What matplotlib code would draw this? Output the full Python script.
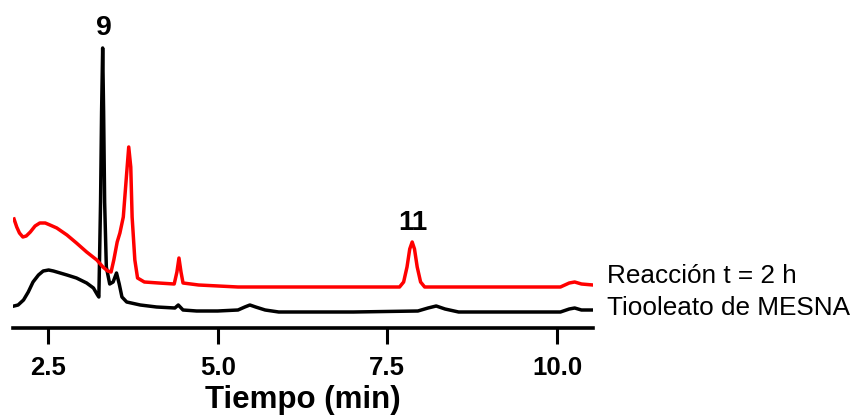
import matplotlib
matplotlib.use("Agg")
import matplotlib.pyplot as plt

plt.rcParams['font.family'] = ['Liberation Sans', 'DejaVu Sans']

# Tiooleato de MESNA (trazo negro), tiempo en min / señal en u.a.
t_mesna = [2.00, 2.06, 2.14, 2.21, 2.28, 2.36, 2.43, 2.51, 2.58, 2.68, 2.78, 2.92,
           3.07, 3.17, 3.23, 3.25, 3.275, 3.29, 3.306, 3.32, 3.335, 3.36, 3.41,
           3.46, 3.51, 3.55, 3.59, 3.66, 3.86, 4.10, 4.37, 4.42, 4.49, 4.69,
           5.00, 5.30, 5.40, 5.475, 5.56, 5.70, 5.90, 7.00, 7.95, 8.10, 8.22,
           8.35, 8.55, 9.50, 10.05, 10.18, 10.26, 10.36, 10.53]
y_mesna = [6, 7, 12, 20, 30, 37, 41, 42, 41, 39, 37, 34,
           29, 24, 17, 15, 110, 200, 264, 200, 110, 45, 28,
           30, 39, 28, 15, 10, 7, 5, 4, 7, 2, 1,
           1, 2, 5, 7, 5, 2, 0, 0, 1, 4, 6,
           3, 0, 0, 0, 3, 4, 2, 2]

# Reacción t = 2 h (trazo rojo)
t_reac = [2.00, 2.04, 2.08, 2.13, 2.18, 2.24, 2.31, 2.38, 2.46, 2.53, 2.63, 2.78,
          2.92, 3.07, 3.22, 3.31, 3.38, 3.43, 3.47, 3.52, 3.56, 3.61, 3.66, 3.69,
          3.72, 3.74, 3.78, 3.82, 3.92, 4.13, 4.36, 4.40, 4.43, 4.46, 4.49, 4.72,
          5.30, 6.50, 7.68, 7.74, 7.79, 7.83, 7.866, 7.90, 7.94, 7.99, 8.05, 9.50,
          10.05, 10.18, 10.26, 10.36, 10.53]
y_reac = [68, 60, 54, 50, 51, 55, 61, 64, 64, 62, 59, 52,
          44, 35, 27, 20, 16, 15, 27, 45, 54, 70, 114, 140,
          120, 70, 27, 9, 5, 4, 3, 15, 29, 15, 4, 2,
          0, 0, 0, 5, 20, 38, 45, 38, 20, 5, 0, 0,
          0, 4, 5, 3, 2]
reac_offset = 25

xticks = [2.5, 5.0, 7.5, 10.0]
xtick_labels = ['2.5', '5.0', '7.5', '10.0']

fig = plt.figure(figsize=(8.56, 4.18), dpi=100)
ax = fig.add_axes([13 / 856, 90 / 418, 580 / 856, 308 / 418])

ax.plot(t_mesna, y_mesna, color='black', lw=2.5, solid_joinstyle='round')
ax.plot(t_reac, [v + reac_offset for v in y_reac], color='#ff0000', lw=2.5,
        solid_joinstyle='round')

ax.set_xlim(1.985, 10.53)
ax.set_ylim(-16, 292)

for s in ['left', 'right', 'top']:
    ax.spines[s].set_visible(False)
ax.spines['bottom'].set_linewidth(2.6)
ax.set_yticks([])
ax.set_xticks(xticks)
ax.set_xticklabels(xtick_labels, fontsize=18.5, fontweight='bold')
ax.tick_params(axis='x', direction='out', length=11.5, width=2.2, pad=9)
ax.set_xlabel('Tiempo (min)', fontsize=22.5, fontweight='bold', labelpad=3)

# etiquetas de los picos
ax.text(3.33, 284, '9', ha='center', va='center', fontsize=20.5,
        fontweight='bold', clip_on=False)
ax.text(7.87, 89.5, '11', ha='center', va='center', fontsize=20,
        fontweight='bold', clip_on=False)

# nombres de los trazos
ax.text(10.73, 36, 'Reacción t = 2 h', ha='left', va='center', fontsize=18.8,
        clip_on=False)
ax.text(10.73, 4, 'Tiooleato de MESNA', ha='left', va='center', fontsize=18.8,
        clip_on=False)

fig.savefig('out.png', dpi=100)
